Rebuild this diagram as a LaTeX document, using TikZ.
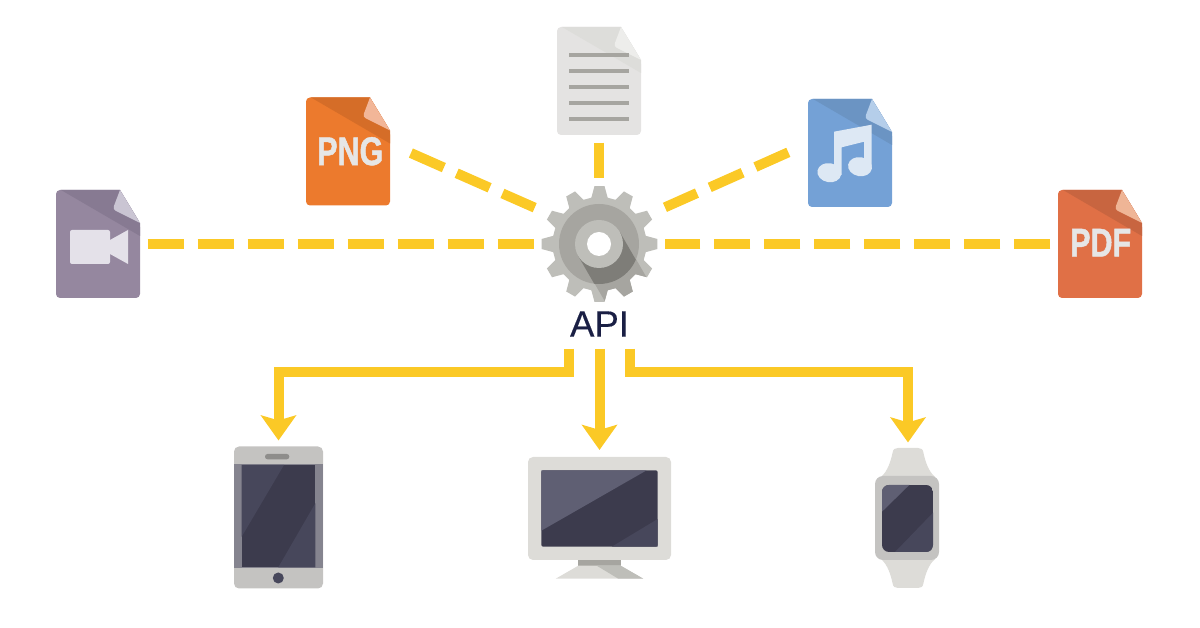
\documentclass[tikz,border=0pt]{standalone}
\usepackage{fontspec}
\setmainfont{Liberation Sans}
\newfontfamily\tagfont[FakeStretch=0.76, FakeBold=1.2]{Liberation Sans Bold}
\newfontfamily\apifont[FakeBold=0.3]{Liberation Sans}
\usetikzlibrary{positioning, arrows.meta}
\definecolor{linkYellow}{HTML}{FBC926}
\definecolor{apiNavy}{HTML}{1A1F44}
\definecolor{tagGray}{HTML}{E6E6E6}
\definecolor{shellLight}{HTML}{DDDCD8}
\definecolor{shellMid}{HTML}{C4C3C1}
\definecolor{shellDark}{HTML}{85848F}
\definecolor{speakerGray}{HTML}{8E8D8B}
\definecolor{glassDark}{HTML}{3C3B4D}
\definecolor{glassMid}{HTML}{47475B}
\definecolor{glassLight}{HTML}{5F5F73}
\definecolor{gearLight}{HTML}{BEBEB9}
\definecolor{gearMid}{HTML}{A6A5A0}
\definecolor{gearDark}{HTML}{7E7D78}
\definecolor{videoBody}{HTML}{95879F}
\definecolor{videoBand}{HTML}{877A92}
\definecolor{videoFold}{HTML}{CAC5D3}
\definecolor{videoCam}{HTML}{E4E1E9}
\definecolor{pngBody}{HTML}{EC7A2D}
\definecolor{pngBand}{HTML}{D56D28}
\definecolor{pngFold}{HTML}{F2B698}
\definecolor{docBody}{HTML}{E4E3E2}
\definecolor{docBand}{HTML}{DDDDDA}
\definecolor{docFold}{HTML}{EDEDEB}
\definecolor{musicBody}{HTML}{74A1D6}
\definecolor{musicBand}{HTML}{6B94C3}
\definecolor{musicFold}{HTML}{B5CEEA}
\definecolor{musicNote}{HTML}{DDE8F4}
\definecolor{pdfBody}{HTML}{E07046}
\definecolor{pdfBand}{HTML}{C86540}
\definecolor{pdfFold}{HTML}{EFB596}

% sheet of paper with a folded corner, drawn on an empty node
\newcommand{\filesheet}[4]{
  \begin{scope}[shift={(#1.center)}]
    \fill[#2, rounded corners=0.04cm] (-42,0) -- (-42,54) -- (42,54) -- (42,-21)
      [sharp corners] -- (22,-54) [rounded corners=0.04cm] -- (-42,-54) -- cycle;
    \fill[#3] (-37,-54) -- (22,-54) -- (42,-21) -- (42,-8) -- cycle;
    \fill[#4] (22,-54) -- (42,-21) [rounded corners=0.03cm] -- (14.7,-34.7)
      [sharp corners] -- cycle;
  \end{scope}
}
\newcommand{\gearoutline}{
  (-10:47) \foreach \a in {0,30,...,330} {
    -- (\a-10:47) -- (\a-5:58) -- (\a+5:58) -- (\a+10:47)
  } -- cycle
}

\begin{document}
\begin{tikzpicture}[
  x=0.01cm, y=-0.01cm,
  dashlink/.style={draw=linkYellow, line width=0.1cm, dash pattern=on 0.36cm off 0.14cm},
  feed/.style={-{Stealth[length=0.25cm, width=0.35cm, inset=0.05cm]}, draw=linkYellow, line width=0.1cm},
  sheet/.style={minimum width=0.84cm, minimum height=1.08cm, inner sep=0pt, outer sep=0.075cm},
  device/.style={inner sep=0pt, outer sep=0.06cm},
  hub/.style={circle, minimum size=1.31cm, inner sep=0pt, outer sep=0pt},
  tag/.style={text=tagGray, inner sep=0pt, font=\tagfont\fontsize{11.4}{12}\selectfont}
]
  \useasboundingbox (0,0) rectangle (1200,628);

  \node[sheet] (video) at (98,244) {};
  \node[sheet] (png) at (348,151.5) {};
  \node[sheet] (doc) at (599,81) {};
  \node[sheet] (music) at (850,153) {};
  \node[sheet] (pdf) at (1100,244) {};
  \node[hub] (gear) at (599.5,244) {};
  \node[minimum width=0.57cm, minimum height=0.48cm, inner sep=0pt, text=apiNavy,
        font=\apifont\fontsize{10.4}{12}\selectfont] (api) at (599.5,324) {API};
  \node[device, minimum width=0.89cm, minimum height=1.42cm] (tablet) at (278.5,517.5) {};
  \node[device, minimum width=1.43cm, minimum height=1.22cm, outer sep=0.07cm] (monitor) at (599.5,518) {};
  \node[device, minimum width=0.64cm, minimum height=1.41cm, outer sep=0.05cm] (watch) at (908,518) {};
  \coordinate (busY) at (0,372);

  % file icons
  \filesheet{video}{videoBody}{videoBand}{videoFold}
  \begin{scope}[shift={(video.center)}]
    \fill[videoCam, rounded corners=0.02cm] (-28,-14) rectangle (12,20);
    \fill[videoCam] (12,-4) -- (30,-14) -- (30,20) -- (12,10) -- cycle;
  \end{scope}

  \filesheet{png}{pngBody}{pngBand}{pngFold}
  \node[tag] (pngTag) at (350.3,151.3) {PNG};

  \filesheet{doc}{docBody}{docBand}{docFold}
  \begin{scope}[shift={(doc.center)}]
    \foreach \row in {-26,-10,6,22,38}
      \fill[gearMid] (-30,\row-2) rectangle (30,\row+2);
  \end{scope}

  \filesheet{music}{musicBody}{musicBand}{musicFold}
  \begin{scope}[shift={(music.center)}]
    \fill[musicNote] (-16,-21.3) -- (21.7,-28.3) -- (21.7,15) -- (14,15) -- (14,-11.3)
      -- (-8.3,-5.7) -- (-8.3,22) -- (-16,22) -- cycle;
    \fill[musicNote, rotate around={-10:(-20.7,19.7)}] (-20.7,19.7) ellipse (12 and 9.5);
    \fill[musicNote, rotate around={-10:(10,13.7)}] (10,13.7) ellipse (12 and 9.5);
  \end{scope}

  \filesheet{pdf}{pdfBody}{pdfBand}{pdfFold}
  \node[tag] (pdfTag) at (1100.7,242.7) {PDF};

  % gear with its long shadow
  \begin{scope}[shift={(gear.center)}]
    \fill[gearLight] \gearoutline;
    \begin{scope}
      \clip \gearoutline;
      \fill[gearMid] (20.8,-12) -- (-20.8,12) -- (14.2,72.6) -- (55.8,48.6) -- cycle;
    \end{scope}
    \begin{scope}[xshift=-0.005cm]
      \fill[gearMid] (0,0) circle (40);
      \begin{scope}
        \clip (0,0) circle (40);
        \fill[gearDark] (20.8,-12) -- (-20.8,12) -- (14.2,72.6) -- (55.8,48.6) -- cycle;
      \end{scope}
      \fill[gearLight] (0,0) circle (24);
      \fill[white] (0,0) circle (12);
    \end{scope}
  \end{scope}

  % tablet
  \begin{scope}[shift={(tablet.center)}]
    \fill[shellMid, rounded corners=0.05cm] (-44.5,-71) rectangle (44.5,71);
    \fill[shellDark] (-44.5,-53.2) rectangle (44.5,50.2);
    \fill[glassDark] (-36.8,-52.5) rectangle (36.8,49.8);
    \fill[glassMid] (-36.8,-52.5) -- (5.5,-52.5) -- (-36.8,19.2) -- cycle;
    \fill[glassMid] (36.8,-14.2) -- (36.8,49.8) -- (-0.2,49.8) -- cycle;
    \fill[speakerGray, rounded corners=0.025cm] (-13.5,-63.5) rectangle (10.8,-58.2);
    \fill[glassMid] (-0.2,60.5) circle (5.5);
  \end{scope}

  % monitor
  \begin{scope}[shift={(monitor.center)}]
    \fill[shellLight, rounded corners=0.05cm] (-71.5,-61) rectangle (71.5,42);
    \fill[glassDark, rounded corners=0.02cm] (-58.2,-47.7) rectangle (58.2,28.7);
    \fill[glassLight] (-58.2,-47.7) -- (47.2,-47.7) -- (-58.2,12.7) -- cycle;
    \fill[glassMid] (58.2,1) -- (58.2,28.7) -- (12.2,28.7) -- cycle;
    \fill[gearMid] (-21.2,42) rectangle (21.2,47.7);
    \fill[shellLight] (-21.2,47.7) -- (21.2,47.7) -- (43.8,60.7) -- (-43.8,60.7) -- cycle;
    \fill[gearLight] (-2.8,47.7) -- (21.2,47.7) -- (43.8,60.7) -- (18.8,60.7) -- cycle;
  \end{scope}

  % watch
  \begin{scope}[shift={(watch.center)}]
    \foreach \flip in {1,-1} {
      \begin{scope}[yscale=\flip]
        \fill[shellLight] (-27,-41) .. controls (-20,-47) and (-17,-58) .. (-15.5,-65)
          .. controls (-15,-69) and (-13,-70) .. (-10,-70) -- (10,-70)
          .. controls (13,-70) and (15,-69) .. (15.5,-65)
          .. controls (17,-58) and (20,-47) .. (27,-41) -- cycle;
      \end{scope}
    }
    \fill[shellMid, rounded corners=0.08cm] (-33,-42) rectangle (31,42);
    \begin{scope}
      \path[clip, rounded corners=0.07cm] (-26,-33) rectangle (25,34);
      \fill[glassDark] (-26,-33) rectangle (25,34);
      \fill[glassLight] (-26,-33) -- (1.3,-33) -- (-26,-6.3) -- cycle;
      \fill[glassMid] (25,-5.3) -- (25,34) -- (-13,34) -- cycle;
    \end{scope}
  \end{scope}

  \draw[dashlink] (video) -- (gear);
  \draw[dashlink] (pdf) -- (gear);
  \draw[dashlink] (doc.south) -- (doc.south |- gear.north);
  \draw[dashlink, shorten <=0.146cm, shorten >=0.088cm] (png.5.4) -- (gear.150);
  \draw[dashlink, shorten <=0.133cm, shorten >=0.095cm] (music.173.5) -- (gear.30);

  \draw[feed] (api.south) -- (monitor.north);
  \draw[feed] (api.south west) -- (api.south west |- busY) -| (tablet.north);
  \draw[feed] (api.south east) -- (api.south east |- busY) -| (watch.north);
\end{tikzpicture}
\end{document}
